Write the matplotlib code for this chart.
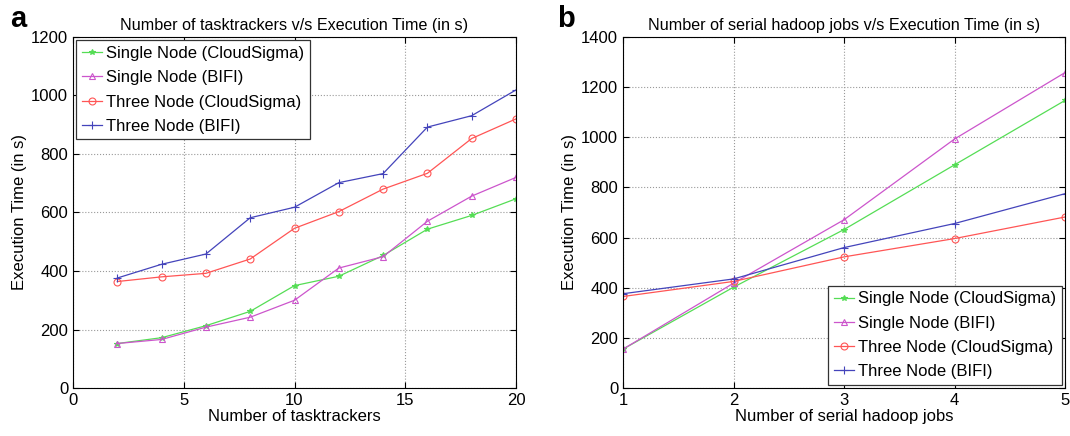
import numpy as np
import matplotlib.pyplot as plt

plt.rcParams['font.family'] = ['Liberation Sans', 'DejaVu Sans']

# panel a: execution time vs number of tasktrackers
trackers = [2, 4, 6, 8, 10, 12, 14, 16, 18, 20]
a_single_cs = [152, 172, 213, 262, 350, 382, 453, 543, 590, 647]
a_single_bifi = [152, 166, 208, 242, 300, 410, 449, 570, 656, 720]
a_three_cs = [364, 380, 392, 441, 546, 603, 680, 734, 853, 920]
a_three_bifi = [376, 423, 458, 582, 618, 702, 733, 892, 931, 1019]

# panel b: execution time vs number of serial hadoop jobs
jobs = [1, 2, 3, 4, 5]
b_single_cs = [155, 402, 632, 890, 1147]
b_single_bifi = [155, 418, 671, 993, 1258]
b_three_cs = [365, 425, 523, 596, 682]
b_three_bifi = [376, 435, 560, 656, 775]

labels = ['Single Node (CloudSigma)', 'Single Node (BIFI)',
          'Three Node (CloudSigma)', 'Three Node (BIFI)']
styles = [dict(color='#55dd55', marker='*', ms=4),
          dict(color='#cc55cc', marker='^', ms=5, mfc='none'),
          dict(color='#ff5555', marker='o', ms=5, mfc='none'),
          dict(color='#4444bb', marker='+', ms=6)]

fig = plt.figure(figsize=(10.7, 4.36), dpi=100)
ax1 = fig.add_axes([73/1070, 1-388/436, 443/1070, 351/436])
ax2 = fig.add_axes([623/1070, 1-388/436, 442/1070, 351/436])


def draw(ax, x, series, title, xlabel, xlim, ylim, xticks, loc):
    for y, lab, st in zip(series, labels, styles):
        ax.plot(x, y, label=lab, lw=0.9, mew=0.8, **st)
    ax.set_xlim(xlim)
    ax.set_ylim(ylim)
    ax.set_xticks(xticks)
    ax.set_yticks(np.arange(0, ylim[1] + 1, 200))
    ax.grid(True, linestyle=':', color='#999999', lw=0.8)
    ax.tick_params(direction='in', labelsize=12, top=True, right=True, length=4)
    ax.set_title(title, fontsize=11.6, pad=5)
    ax.set_xlabel(xlabel, fontsize=12, labelpad=1)
    ax.set_ylabel('Execution Time (in s)', fontsize=12, labelpad=3)
    for s in ax.spines.values():
        s.set_linewidth(0.8)
    leg = ax.legend(loc=loc, fontsize=12, fancybox=False, edgecolor='#333333',
                    borderaxespad=0.2, handlelength=1.2, handletextpad=0.25,
                    labelspacing=0.55, borderpad=0.35, framealpha=1)
    leg.get_frame().set_linewidth(0.9)


draw(ax1, trackers, [a_single_cs, a_single_bifi, a_three_cs, a_three_bifi],
     'Number of tasktrackers v/s Execution Time (in s)', 'Number of tasktrackers',
     (0, 20), (0, 1200), [0, 5, 10, 15, 20], 'upper left')
draw(ax2, jobs, [b_single_cs, b_single_bifi, b_three_cs, b_three_bifi],
     'Number of serial hadoop jobs v/s Execution Time (in s)', 'Number of serial hadoop jobs',
     (1, 5), (0, 1400), [1, 2, 3, 4, 5], 'lower right')

fig.text(10/1070, 1-19/436, 'a', fontsize=21, fontweight='bold', va='center')
fig.text(557/1070, 1-19/436, 'b', fontsize=21, fontweight='bold', va='center')

fig.savefig('out.png', dpi=100)
